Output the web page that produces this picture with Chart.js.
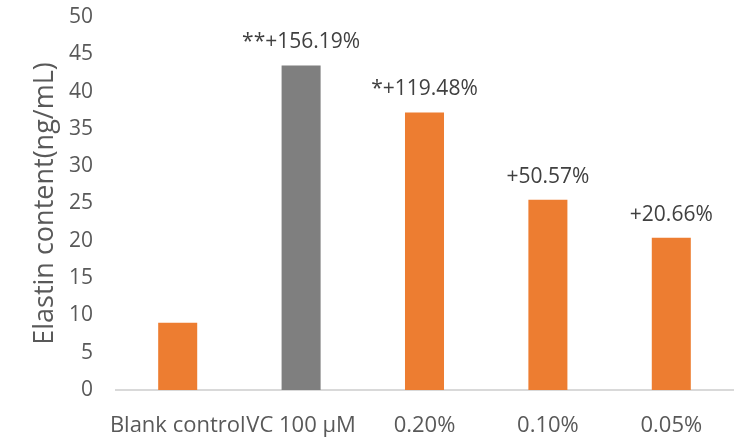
<!DOCTYPE html>
<html>
<head>
<meta charset="utf-8">
<script src="https://cdn.jsdelivr.net/npm/chart.js@4"></script>
<style>
  html, body { margin: 0; padding: 0; background: #fff; }
  #wrap { width: 739px; height: 438px; }
</style>
</head>
<body>
<div id="wrap"><canvas id="chartElastin" width="739" height="438"></canvas></div>
<script>
const categories = ['Blank control', 'VC 100 \u00b5M', '0.20%', '0.10%', '0.05%'];
const elastinValues = [9.0, 43.5, 37.2, 25.5, 20.4];
const barColors = ['#ED7D31', '#7F7F7F', '#ED7D31', '#ED7D31', '#ED7D31'];
const barLabels = ['', '**+156.19%', '*+119.48%', '+50.57%', '+20.66%'];

const fontFamily = "'Open Sans', 'Noto Sans', sans-serif";

// percentage labels above the bars
const barLabelPlugin = {
    id: 'barLabels',
    afterDatasetsDraw(chart) {
        const ctx = chart.ctx;
        const meta = chart.getDatasetMeta(0);
        ctx.save();
        ctx.fillStyle = '#404040';
        ctx.font = '21px ' + fontFamily;
        ctx.textAlign = 'center';
        ctx.textBaseline = 'alphabetic';
        meta.data.forEach((bar, i) => {
            if (!barLabels[i]) return;
            ctx.fillText(barLabels[i], bar.x, bar.y - 17);
        });
        ctx.restore();
    }
};

const ctx = document.getElementById('chartElastin').getContext('2d');
new Chart(ctx, {
    type: 'bar',
    data: {
        labels: categories,
        datasets: [{
            data: elastinValues,
            backgroundColor: barColors,
            borderWidth: 0,
            barPercentage: 0.62,
            categoryPercentage: 0.51
        }]
    },
    options: {
        responsive: false,
        animation: false,
        layout: { padding: { top: 17, right: 6, left: 29, bottom: 0 } },
        plugins: {
            legend: { display: false },
            tooltip: { enabled: false }
        },
        scales: {
            x: {
                grid: { display: false },
                border: { color: '#D9D9D9', width: 2 },
                afterFit(scale) { scale.height = 48; },
                ticks: {
                    autoSkip: false,
                    maxRotation: 0,
                    color: '#595959',
                    padding: 15,
                    font: { family: fontFamily, size: 22 }
                }
            },
            y: {
                min: 0,
                max: 50,
                grid: { display: false, tickLength: 23 },
                border: { display: false },
                afterFit(scale) { scale.width = 87; },
                ticks: {
                    stepSize: 5,
                    color: '#595959',
                    padding: 0,
                    font: { family: fontFamily, size: 21 }
                },
                title: {
                    display: true,
                    text: 'Elastin content(ng/mL)',
                    color: '#595959',
                    padding: 0,
                    font: { family: fontFamily, size: 27 }
                }
            }
        }
    },
    plugins: [barLabelPlugin]
});
</script>
</body>
</html>
